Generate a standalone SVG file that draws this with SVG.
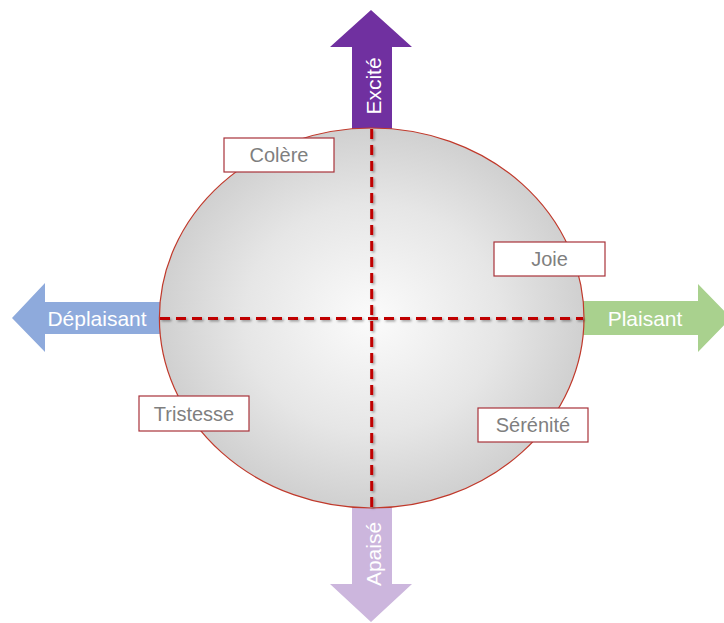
<svg xmlns="http://www.w3.org/2000/svg" width="724" height="623" viewBox="0 0 724 623">
<defs>
<radialGradient id="sphere" cx="50%" cy="50%" r="50%">
<stop offset="0" stop-color="#fbfbfb"/>
<stop offset="0.6" stop-color="#e6e6e6"/>
<stop offset="1" stop-color="#d0d0d0"/>
</radialGradient>
<filter id="shadow" x="-10%" y="-10%" width="120%" height="120%">
<feDropShadow dx="1.5" dy="1.5" stdDeviation="1" flood-color="#000" flood-opacity="0.35"/>
</filter>
</defs>
<style>
.axis{font-family:"Liberation Sans",Arial,sans-serif;font-size:21px;fill:#ffffff;text-anchor:middle;dominant-baseline:central}
.lbl rect{fill:#ffffff;stroke:#a8323a;stroke-width:1.2}
.lbl text{font-family:"Liberation Sans",Arial,sans-serif;font-size:20px;fill:#7f7f7f;text-anchor:middle;dominant-baseline:central}
.dash{stroke:#c00000;stroke-width:3;stroke-dasharray:10 6;fill:none}
</style>
<rect width="724" height="623" fill="#ffffff"/>
<g id="arrow-excite">
<polygon points="352,140 352,47 330,47 371,10 412,47 392,47 392,140" fill="#7030a0"/>
<text class="axis" transform="translate(373,86) rotate(-90)">Excité</text>
</g>
<g id="arrow-apaise">
<polygon points="352,495 352,584 330,584 371,622 412,584 392,584 392,495" fill="#ccb6dd"/>
<text class="axis" transform="translate(373,554) rotate(-90)">Apaisé</text>
</g>
<g id="arrow-deplaisant">
<polygon points="170,302 45,302 45,283 12,318 45,352 45,334 170,334" fill="#8eaadc"/>
<text class="axis" x="97" y="318">Déplaisant</text>
</g>
<g id="arrow-plaisant">
<polygon points="575,301 698,301 698,284 731,318 698,352 698,335 575,335" fill="#a9d18e"/>
<text class="axis" x="645" y="318">Plaisant</text>
</g>
<g id="circle">
<ellipse cx="371.7" cy="318" rx="212.3" ry="190" fill="url(#sphere)" stroke="#c0392b" stroke-width="1.2"/>
</g>
<g id="connectors" filter="url(#shadow)">
<line class="dash" x1="160" y1="318.5" x2="583" y2="318.5"/>
<line class="dash" x1="371.7" y1="129" x2="371.7" y2="507"/>
</g>
<g id="colere" class="lbl">
<rect x="224" y="138" width="110" height="34"/>
<text x="279" y="155">Colère</text>
</g>
<g id="joie" class="lbl">
<rect x="494" y="242" width="111" height="34"/>
<text x="549.5" y="259">Joie</text>
</g>
<g id="tristesse" class="lbl">
<rect x="139" y="396" width="110" height="35"/>
<text x="194" y="413.5">Tristesse</text>
</g>
<g id="serenite" class="lbl">
<rect x="478" y="408" width="110" height="34"/>
<text x="533" y="425">Sérénité</text>
</g>
</svg>
